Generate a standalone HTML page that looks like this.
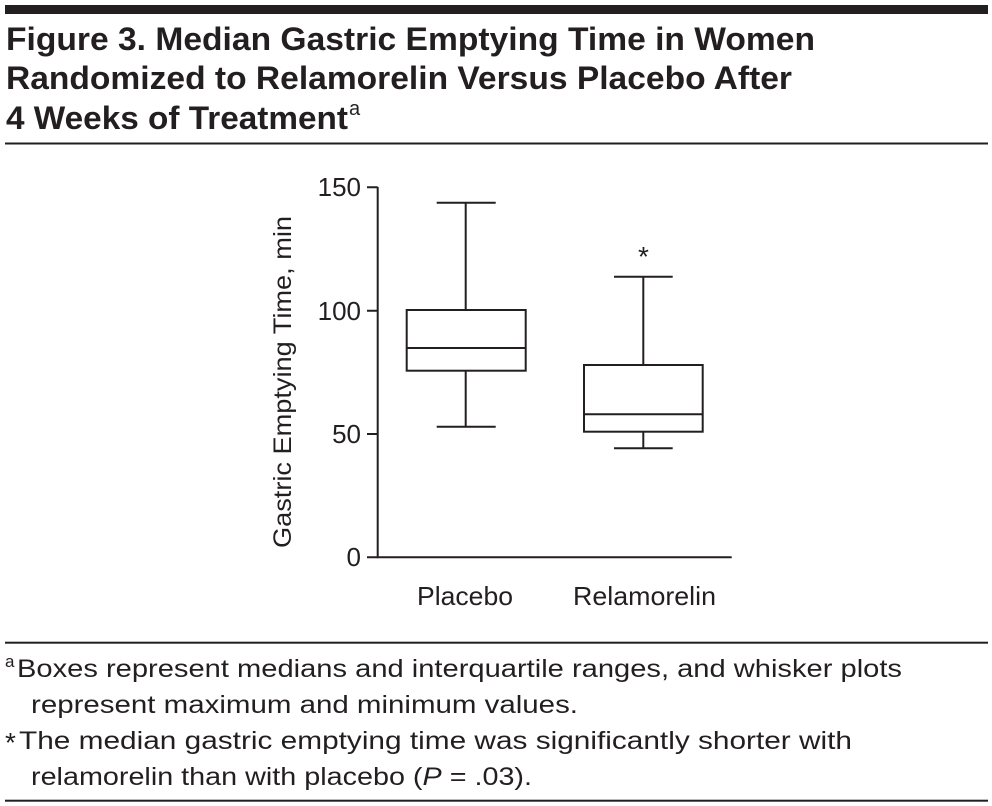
<!DOCTYPE html>
<html><head><meta charset="utf-8"><style>
html,body{margin:0;padding:0;background:#fff;}
svg{display:block;}
text{font-family:"Liberation Sans",sans-serif;fill:#231f20;}
</style></head><body>
<svg width="992" height="806" viewBox="0 0 992 806" xmlns="http://www.w3.org/2000/svg">
<rect x="5" y="5" width="983" height="9" fill="#231f20"/>
<g font-weight="bold" font-size="32">
<text x="6" y="50" textLength="809" lengthAdjust="spacingAndGlyphs">Figure 3. Median Gastric Emptying Time in Women</text>
<text x="6" y="89" textLength="786" lengthAdjust="spacingAndGlyphs">Randomized to Relamorelin Versus Placebo After</text>
<text x="6" y="129" textLength="342" lengthAdjust="spacingAndGlyphs">4 Weeks of Treatment</text>
<text x="349" y="115" font-size="20" font-weight="normal">a</text>
</g>
<rect x="5" y="142.5" width="983" height="2" fill="#231f20"/>
<g stroke="#231f20" stroke-width="2" fill="none">
<path d="M377.7 187 V557.3 H731.7"/>
<path d="M367 187.3 H377.7 M367 310.7 H377.7 M367 434 H377.7 M367 557.3 H377.7"/>
<rect x="406.7" y="310" width="119" height="60.7"/>
<path d="M406.7 348 H525.7 M465.7 310 V202.7 M436.7 202.7 H495.7 M465.7 370.7 V426.7 M436.7 426.7 H495.7"/>
<rect x="584" y="365" width="118.7" height="66.7"/>
<path d="M584 414.3 H702.7 M643.3 365 V276.7 M614 276.7 H672.7 M643.3 431.7 V448.3 M614 448.3 H672.7"/>
</g>
<g font-size="26" text-anchor="end">
<text x="361" y="196">150</text>
<text x="361" y="320">100</text>
<text x="361" y="443">50</text>
<text x="361" y="566">0</text>
</g>
<text x="643.5" y="266" font-size="28" text-anchor="middle">*</text>
<g font-size="26">
<text x="417" y="605" textLength="96" lengthAdjust="spacingAndGlyphs">Placebo</text>
<text x="573" y="605" textLength="143" lengthAdjust="spacingAndGlyphs">Relamorelin</text>
</g>
<text transform="translate(291,382) rotate(-90)" font-size="25" text-anchor="middle" textLength="332" lengthAdjust="spacingAndGlyphs">Gastric Emptying Time, min</text>
<rect x="5" y="641.7" width="983" height="2" fill="#231f20"/>
<g font-size="25">
<text x="5" y="667" font-size="17">a</text>
<text x="17" y="677" textLength="885" lengthAdjust="spacingAndGlyphs">Boxes represent medians and interquartile ranges, and whisker plots</text>
<text x="31" y="713" textLength="547" lengthAdjust="spacingAndGlyphs">represent maximum and minimum values.</text>
<text x="5" y="752" font-size="28">*</text>
<text x="19" y="749" textLength="833" lengthAdjust="spacingAndGlyphs">The median gastric emptying time was significantly shorter with</text>
<text x="31" y="785" textLength="501" lengthAdjust="spacingAndGlyphs">relamorelin than with placebo (<tspan font-style="italic">P</tspan> = .03).</text>
</g>
<rect x="5" y="799.7" width="983" height="2" fill="#231f20"/>
</svg>
</body></html>
